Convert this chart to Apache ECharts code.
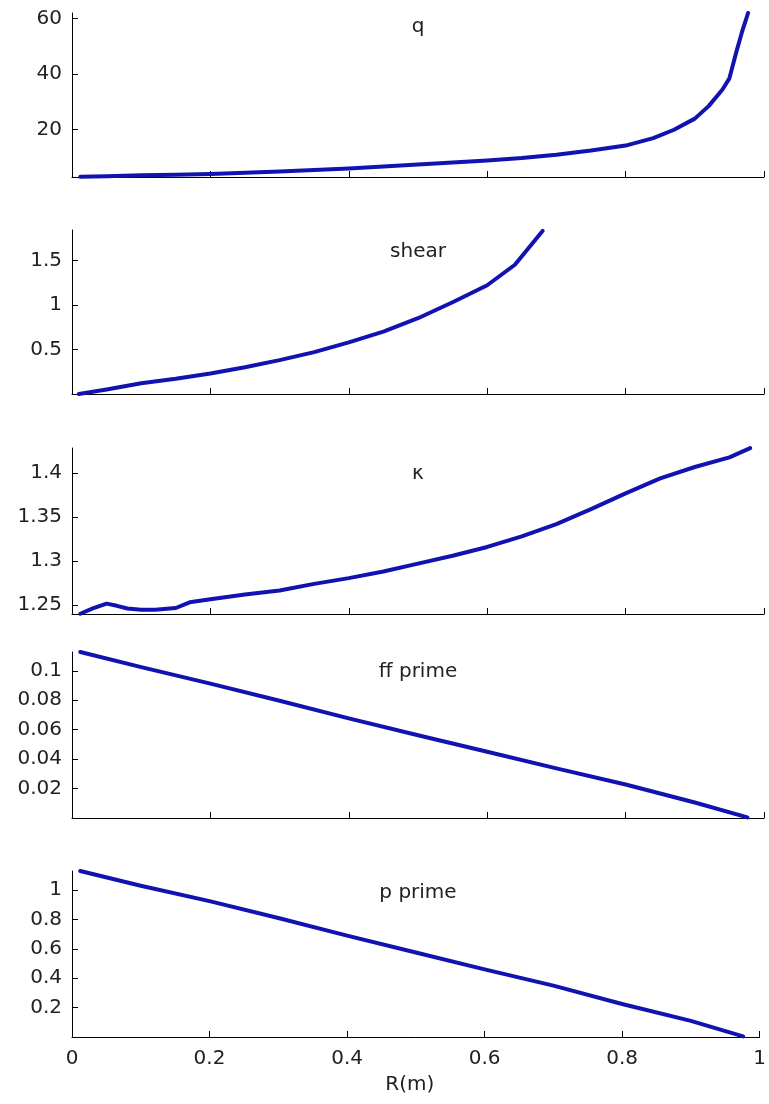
<!DOCTYPE html>
<html>
<head>
<meta charset="utf-8">
<title>Profiles vs R(m)</title>
<script src="https://cdn.jsdelivr.net/npm/echarts@6/dist/echarts.min.js"></script>
<style>
  html, body { margin: 0; padding: 0; background: #fff; }
  #chart { width: 769px; height: 1104px; }
</style>
</head>
<body>
<div id="chart"></div>
<script>
// Radius samples and profile values for each panel
const qR     = [0.012, 0.05, 0.1, 0.15, 0.2, 0.25, 0.3, 0.35, 0.4, 0.45, 0.5, 0.55, 0.6, 0.65, 0.7, 0.75, 0.8, 0.84, 0.87, 0.9, 0.92, 0.94, 0.95, 0.96, 0.968, 0.977];
const qVal   = [3.1, 3.3, 3.6, 3.8, 4.1, 4.5, 5.0, 5.5, 6.1, 6.8, 7.5, 8.2, 8.9, 9.8, 11.0, 12.5, 14.3, 17.0, 20.0, 24.0, 28.5, 34.5, 38.5, 48.0, 55.0, 62.0];

const shearR   = [0.01, 0.05, 0.1, 0.15, 0.2, 0.25, 0.3, 0.35, 0.4, 0.45, 0.5, 0.55, 0.6, 0.64, 0.68];
const shearVal = [0.0, 0.05, 0.12, 0.17, 0.23, 0.30, 0.38, 0.47, 0.58, 0.70, 0.85, 1.03, 1.22, 1.45, 1.83];

const kappaR   = [0.012, 0.03, 0.05, 0.065, 0.08, 0.1, 0.12, 0.15, 0.17, 0.2, 0.25, 0.3, 0.35, 0.4, 0.45, 0.5, 0.55, 0.6, 0.65, 0.7, 0.75, 0.8, 0.85, 0.9, 0.95, 0.98];
const kappaVal = [1.240, 1.246, 1.2515, 1.249, 1.246, 1.2445, 1.2445, 1.2465, 1.253, 1.2565, 1.262, 1.2665, 1.274, 1.2805, 1.288, 1.297, 1.306, 1.316, 1.328, 1.342, 1.359, 1.377, 1.394, 1.407, 1.418, 1.4285];

const ffR   = [0.012, 0.1, 0.2, 0.3, 0.4, 0.5, 0.6, 0.7, 0.8, 0.9, 0.976];
const ffVal = [0.1128, 0.1025, 0.0913, 0.0797, 0.0677, 0.0562, 0.0450, 0.0337, 0.0228, 0.0105, 0.0004];

const pR   = [0.012, 0.1, 0.2, 0.3, 0.4, 0.5, 0.6, 0.7, 0.8, 0.9, 0.976];
const pVal = [1.13, 1.03, 0.925, 0.81, 0.69, 0.575, 0.46, 0.35, 0.225, 0.11, 0.004];

// Panel titles and tick labels
const panelTitles = ['q', 'shear', '\u03ba', 'ff prime', 'p prime'];
const qTicks     = [20, 40, 60];
const shearTicks = [0.5, 1, 1.5];
const kappaTicks = [1.25, 1.3, 1.35, 1.4];
const ffTicks    = [0.02, 0.04, 0.06, 0.08, 0.1];
const pTicks     = [0.2, 0.4, 0.6, 0.8, 1];
const xTickLabels = ['0', '0.2', '0.4', '0.6', '0.8', '1'];
const xAxisName = 'R(m)';

// Y-axis ranges (tight to the data)
const yRanges = [[3, 62], [0, 1.84], [1.2397, 1.4286], [0, 0.1128], [0, 1.13]];

const pairs = (xs, ys) => xs.map((x, i) => [x, ys[i]]);
const seriesData = [
  pairs(qR, qVal),
  pairs(shearR, shearVal),
  pairs(kappaR, kappaVal),
  pairs(ffR, ffVal),
  pairs(pR, pVal)
];
const yTicks = [qTicks, shearTicks, kappaTicks, ffTicks, pTicks];

// Layout of the five stacked panels
const panelTops    = [13, 230, 448, 652, 871];
const panelHeights = [164, 164, 166, 166, 166];
const titleTops    = [12, 237, 459, 657, 878];
const TITLE_X = 413;
const FONT = 'DejaVu Sans';
const LINE_COLOR = '#1212b0';

const grids = [], xAxes = [], yAxes = [], series = [], titles = [];
for (let i = 0; i < 5; i++) {
  const last = i === 4;
  grids.push({ left: 72, width: 692, top: panelTops[i], height: panelHeights[i], containLabel: false });
  xAxes.push({
    type: 'value', gridIndex: i, min: 0, max: 1, interval: 0.2,
    axisLine: { onZero: false, lineStyle: { color: '#000', width: 1 } },
    axisTick: { show: true, inside: true, length: 6, lineStyle: { color: '#000' } },
    axisLabel: {
      show: last, margin: 12, color: '#222', fontFamily: FONT, fontSize: 20,
      formatter: (v) => xTickLabels[Math.round(v / 0.2)]
    },
    splitLine: { show: false },
    name: last ? xAxisName : '', nameLocation: 'middle', nameGap: 38,
    nameTextStyle: { color: '#222', fontFamily: FONT, fontSize: 20, padding: [0, 12, 0, 0] }
  });
  yAxes.push({
    type: 'value', gridIndex: i, min: yRanges[i][0], max: yRanges[i][1],
    axisLine: { show: true, onZero: false, lineStyle: { color: '#000', width: 1 } },
    axisTick: { show: true, inside: true, length: 6, customValues: yTicks[i], lineStyle: { color: '#000' } },
    axisLabel: {
      show: true, margin: 10, color: '#222', fontFamily: FONT, fontSize: 20,
      customValues: yTicks[i], formatter: (v) => String(v)
    },
    splitLine: { show: false }
  });
  series.push({
    type: 'line', xAxisIndex: i, yAxisIndex: i, data: seriesData[i],
    showSymbol: false, symbol: 'none', clip: true, smooth: false,
    lineStyle: { color: LINE_COLOR, width: 4, join: 'round', cap: 'round' },
    animation: false
  });
  titles.push({
    text: panelTitles[i], left: TITLE_X, top: titleTops[i], textAlign: 'center',
    textStyle: { color: '#222', fontFamily: FONT, fontSize: 20, fontWeight: 'normal' }
  });
}

const chart = echarts.init(document.getElementById('chart'), null, { renderer: 'canvas' });
chart.setOption({
  backgroundColor: '#fff',
  animation: false,
  title: titles,
  grid: grids,
  xAxis: xAxes,
  yAxis: yAxes,
  series: series
});
</script>
</body>
</html>
